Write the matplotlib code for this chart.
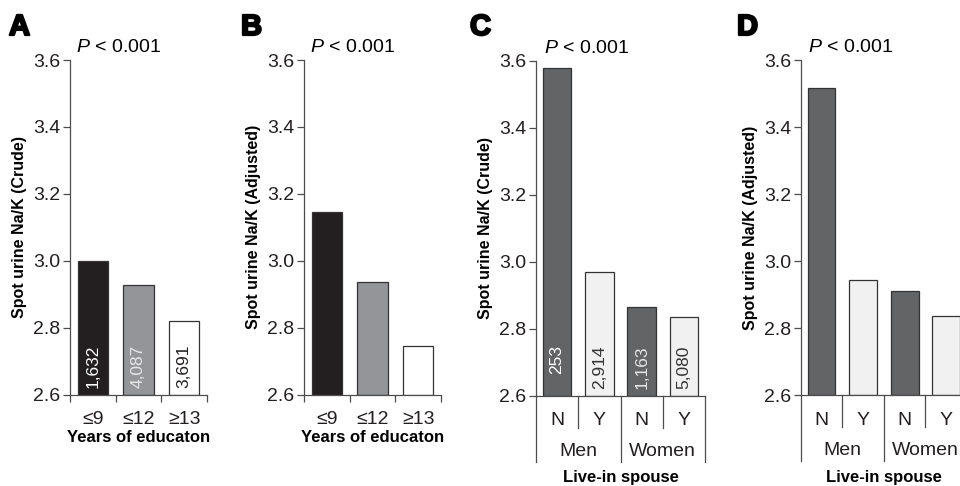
import matplotlib.pyplot as plt
import matplotlib.patheffects as pe

plt.rcParams['font.family'] = 'Liberation Sans'
plt.rcParams['mathtext.fontset'] = 'custom'
plt.rcParams['mathtext.it'] = 'Liberation Sans:italic'
plt.rcParams['mathtext.rm'] = 'Liberation Sans'

# dados
edu_labels = ['≤9', '≤12', '≥13']
edu_crude = [3.00, 2.926, 2.821]
edu_adjusted = [3.147, 2.936, 2.746]
edu_n = ['1,632', '4,087', '3,691']
edu_colors = ['#231f20', '#939598', '#ffffff']
edu_text_colors = ['#ffffff', '#e6e6e6', '#231f20']

spouse_labels = ['N', 'Y', 'N', 'Y']
sex_labels = ['Men', 'Women']
spouse_crude = [3.578, 2.970, 2.863, 2.833]
spouse_adjusted = [3.517, 2.944, 2.910, 2.837]
spouse_n = ['253', '2,914', '1,163', '5,080']
spouse_colors = ['#636466', '#f1f1f2', '#636466', '#f1f1f2']
spouse_text_colors = ['#ffffff', '#333333', '#e6e6e6', '#333333']

axis_color = '#4d4d4d'
edge_color = '#333333'

fig = plt.figure(figsize=(9.6, 4.86), dpi=100)


def px_axes(left, right, top=60, bottom=394.5):
    return fig.add_axes([left / 960, 1 - bottom / 486, (right - left) / 960, (bottom - top) / 486])


def base_style(ax, n, ylabel):
    ax.set_ylim(2.6, 3.6)
    ax.set_yticks([2.6, 2.8, 3.0, 3.2, 3.4, 3.6])
    ax.set_yticklabels(['2.6', '2.8', '3.0', '3.2', '3.4', '3.6'])
    ax.set_xlim(-0.5, n - 0.5)
    ax.spines['top'].set_visible(False)
    ax.spines['right'].set_visible(False)
    for s in ['left', 'bottom']:
        ax.spines[s].set_color(axis_color)
        ax.spines[s].set_linewidth(0.9)
    ax.tick_params(axis='y', length=5, width=0.9, color=axis_color, labelsize=14, pad=2,
                   labelcolor='#231f20')
    ax.set_ylabel(ylabel, fontsize=11.5, fontweight='bold', labelpad=4)
    ax.text(0.045, 1.036, r'$P$ < 0.001', transform=ax.transAxes, fontsize=14, ha='left', va='center')


def bars(ax, values, colors, labels=None, text_colors=None):
    x = list(range(len(values)))
    ax.bar(x, [v - 2.6 for v in values], bottom=2.6, width=0.67, color=colors,
           edgecolor=edge_color, linewidth=0.9, zorder=2)
    if labels is not None:
        for i, lab in enumerate(labels):
            ax.text(i, 2.75, lab, rotation=90, ha='center', va='top',
                    color=text_colors[i], fontsize=12.5, zorder=3)


def edu_axis(ax):
    ax.set_xticks(range(3))
    ax.set_xticklabels(edu_labels)
    ax.set_xticks([-0.5, 0.5, 1.5, 2.5], minor=True)
    ax.tick_params(axis='x', which='major', length=0, labelsize=14, pad=12, labelcolor='#231f20')
    ax.tick_params(axis='x', which='minor', length=5, width=0.9, color=axis_color)
    ax.set_xlabel('Years of educaton', fontsize=12, fontweight='bold', labelpad=1)


def spouse_axis(ax):
    ax.set_xticks(range(4))
    ax.set_xticklabels(spouse_labels)
    ax.tick_params(axis='x', length=0, labelsize=14, pad=12, labelcolor='#231f20')
    tr = ax.get_xaxis_transform()
    for xs in [0.5, 2.5]:
        ax.plot([xs, xs], [0, -0.096], transform=tr, clip_on=False, color=axis_color, lw=0.9)
    for xs in [-0.5, 1.5, 3.5]:
        ax.plot([xs, xs], [0, -0.198], transform=tr, clip_on=False, color=axis_color, lw=0.9)
    for i, lab in enumerate(sex_labels):
        ax.text(0.5 + 2 * i, -0.167, lab, transform=tr, ha='center', va='center',
                fontsize=14, color='#231f20')
    ax.text(1.5, -0.245, 'Live-in spouse', transform=tr, ha='center', va='center',
            fontsize=12, fontweight='bold')


# A - bruto, escolaridade
axA = px_axes(70, 207)
base_style(axA, 3, 'Spot urine Na/K (Crude)')
bars(axA, edu_crude, edu_colors, edu_n, edu_text_colors)
edu_axis(axA)

# B - ajustado, escolaridade
axB = px_axes(304, 441)
base_style(axB, 3, 'Spot urine Na/K (Adjusted)')
bars(axB, edu_adjusted, edu_colors)
edu_axis(axB)

# C - bruto, conjuge
axC = px_axes(536, 705, top=60.5, bottom=395.5)
base_style(axC, 4, 'Spot urine Na/K (Crude)')
bars(axC, spouse_crude, spouse_colors, spouse_n, spouse_text_colors)
spouse_axis(axC)

# D - ajustado, conjuge (cortado na borda direita)
axD = px_axes(800.7, 967, top=60, bottom=395)
base_style(axD, 4, 'Spot urine Na/K (Adjusted)')
bars(axD, spouse_adjusted, spouse_colors)
spouse_axis(axD)

# letras dos paineis
for x, letter in [(9, 'A'), (241, 'B'), (470, 'C'), (737, 'D')]:
    fig.text(x / 960, 1 - 13 / 486, letter, fontsize=21, fontweight='bold', ha='left', va='top',
             path_effects=[pe.withStroke(linewidth=1.6, foreground='black')])

fig.savefig('out.png', dpi=100)
